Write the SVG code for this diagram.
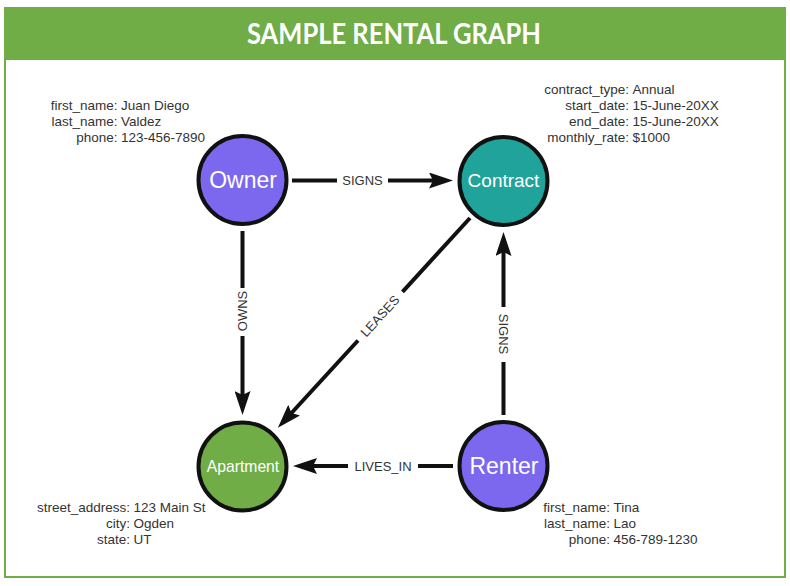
<svg xmlns="http://www.w3.org/2000/svg" width="790" height="586" viewBox="0 0 790 586">
<style>
.title{font-family:Lato,"Open Sans","Liberation Sans",sans-serif;font-weight:bold;font-size:28px;fill:#fff;text-anchor:middle}
.nl{font-family:"Liberation Sans",Arial,sans-serif;fill:#fff;text-anchor:middle}
.p{font-family:"Liberation Sans",Arial,sans-serif;font-size:13.5px;fill:#333}
.k{text-anchor:end}
.el{font-family:"Liberation Sans",Arial,sans-serif;font-size:13px;fill:#333;text-anchor:middle;dominant-baseline:central}
.node{stroke:#111;stroke-width:4}
.edge{stroke:#111;stroke-width:4;fill:none}
</style>
<defs>
<marker id="arr" markerUnits="userSpaceOnUse" markerWidth="24" markerHeight="16" viewBox="0 0 24 16" refX="12" refY="8" orient="auto">
<path d="M0,0 L24,8 L0,16 L4,8 Z" fill="#111"/>
</marker>
</defs>
<rect x="5" y="8" width="780" height="569" fill="#fff" stroke="#70AD47" stroke-width="2"/>
<rect x="5" y="8" width="780" height="52" fill="#70AD47"/>
<text class="title" x="394" y="44" textLength="294" lengthAdjust="spacingAndGlyphs">SAMPLE RENTAL GRAPH</text>

<g id="connectors">
<g id="e-owner-signs-contract">
<line class="edge" x1="292" y1="180.5" x2="337" y2="180.5"/>
<line class="edge" x1="388" y1="180.5" x2="441" y2="180.5" marker-end="url(#arr)"/>
<text class="el" x="362.5" y="180.5">SIGNS</text>
</g>
<g id="e-owner-owns-apartment">
<line class="edge" x1="242.5" y1="231" x2="242.5" y2="288"/>
<line class="edge" x1="242.5" y1="336" x2="242.5" y2="403" marker-end="url(#arr)"/>
<text class="el" x="242.5" y="311" transform="rotate(-90 242.5 311)">OWNS</text>
</g>
<g id="e-contract-leases-apartment">
<line class="edge" x1="470" y1="218" x2="402.5" y2="291.8"/>
<line class="edge" x1="358" y1="340.5" x2="286" y2="419" marker-end="url(#arr)"/>
<text class="el" x="380" y="316" transform="rotate(-47.6 380 316)">LEASES</text>
</g>
<g id="e-renter-signs-contract">
<line class="edge" x1="503.5" y1="415" x2="503.5" y2="362"/>
<line class="edge" x1="503.5" y1="307" x2="503.5" y2="244" marker-end="url(#arr)"/>
<text class="el" x="503.5" y="334" transform="rotate(90 503.5 334)">SIGNS</text>
</g>
<g id="e-renter-livesin-apartment">
<line class="edge" x1="453" y1="466" x2="418" y2="466"/>
<line class="edge" x1="348" y1="466" x2="305" y2="466" marker-end="url(#arr)"/>
<text class="el" x="383" y="466">LIVES_IN</text>
</g>
</g>

<g id="owner">
<circle class="node" cx="242.5" cy="180" r="44" fill="#7B68EE"/>
<text class="nl" x="243" y="188" font-size="23">Owner</text>
<text class="p k" x="117.5" y="110">first_name:</text><text class="p" x="121" y="110">Juan Diego</text>
<text class="p k" x="117.5" y="126">last_name:</text><text class="p" x="121" y="126">Valdez</text>
<text class="p k" x="117.5" y="142">phone:</text><text class="p" x="121" y="142">123-456-7890</text>
</g>

<g id="contract">
<circle class="node" cx="503.5" cy="181" r="44" fill="#1FA39B"/>
<text class="nl" x="503.5" y="187" font-size="19">Contract</text>
<text class="p k" x="629" y="93.5">contract_type:</text><text class="p" x="632.5" y="93.5">Annual</text>
<text class="p k" x="629" y="109.5">start_date:</text><text class="p" x="632.5" y="109.5">15-June-20XX</text>
<text class="p k" x="629" y="125.5">end_date:</text><text class="p" x="632.5" y="125.5">15-June-20XX</text>
<text class="p k" x="629" y="141.5">monthly_rate:</text><text class="p" x="632.5" y="141.5">$1000</text>
</g>

<g id="apartment">
<circle class="node" cx="242.5" cy="466.5" r="44" fill="#70AD47"/>
<text class="nl" x="243" y="471.5" font-size="15.7">Apartment</text>
<text class="p k" x="130" y="512">street_address:</text><text class="p" x="133.5" y="512">123 Main St</text>
<text class="p k" x="130" y="528">city:</text><text class="p" x="133.5" y="528">Ogden</text>
<text class="p k" x="130" y="544">state:</text><text class="p" x="133.5" y="544">UT</text>
</g>

<g id="renter">
<circle class="node" cx="503.5" cy="466" r="44" fill="#7B68EE"/>
<text class="nl" x="504" y="474" font-size="23">Renter</text>
<text class="p k" x="610" y="512">first_name:</text><text class="p" x="613.5" y="512">Tina</text>
<text class="p k" x="610" y="528">last_name:</text><text class="p" x="613.5" y="528">Lao</text>
<text class="p k" x="610" y="544">phone:</text><text class="p" x="613.5" y="544">456-789-1230</text>
</g>
</svg>
